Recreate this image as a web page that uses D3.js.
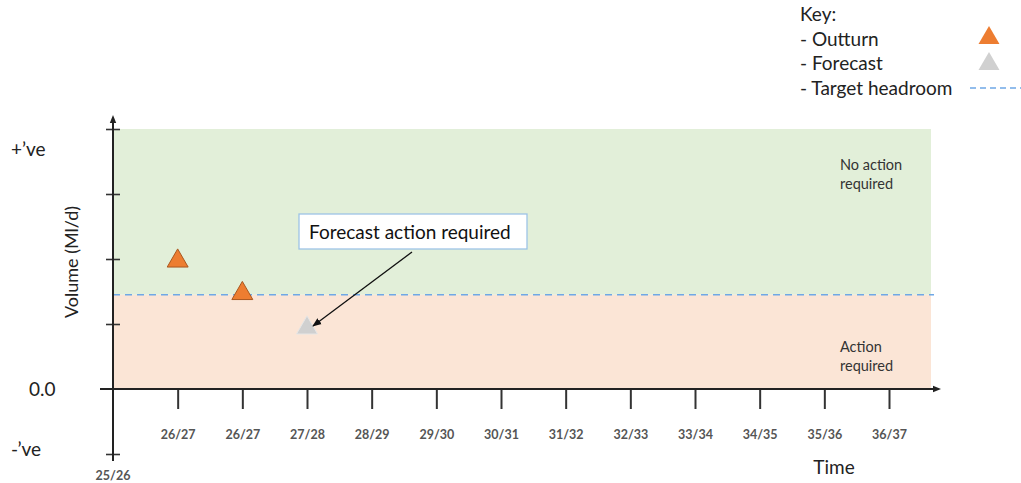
<!DOCTYPE html>
<html>
<head>
<meta charset="utf-8">
<script src="https://cdn.jsdelivr.net/npm/d3@7"></script>
<style>
  html, body { margin: 0; padding: 0; background: #fff; }
  svg { display: block; font-family: Lato, "Open Sans", sans-serif; }
</style>
</head>
<body>
<svg id="chart" width="1021" height="483"></svg>
<script>
// Financial-year periods along the time axis
const periods = ["25/26", "26/27", "26/27", "27/28", "28/29", "29/30", "30/31",
                 "31/32", "32/33", "33/34", "34/35", "35/36", "36/37"];
// Outturn and forecast volumes (index into periods, volume units)
const outturnPeriods = [1, 2];
const outturnValues = [2.0, 1.5];
const forecastPeriods = [3];
const forecastValues = [0.97];
// Target headroom level and the top of the chart zones
const targetHeadroom = [1.45];
const zoneTop = [4];
// Y-axis ticks and qualitative labels
const yTicks = [-1, 0, 1, 2, 3, 4];
const yWords = ["+\u2019ve", "0.0", "-\u2019ve"];
const yWordValues = [3.7, 0, -0.93];
const keyItems = ["Key:", "- Outturn", "- Forecast", "- Target headroom"];

const svg = d3.select("#chart");
const x = d3.scaleLinear().domain([0, 12]).range([113, 889]);
const y = d3.scaleLinear().domain([-1, 4]).range([454, 129]);
const xEnd = 931;

const defs = svg.append("defs");
defs.append("marker").attr("id", "axisArrow")
  .attr("viewBox", "0 0 10 10").attr("refX", 5).attr("refY", 5)
  .attr("markerWidth", 4).attr("markerHeight", 4).attr("orient", "auto")
  .append("path").attr("d", "M0,1 L10,5 L0,9 Z").attr("fill", "#222");
defs.append("marker").attr("id", "noteArrow")
  .attr("viewBox", "0 0 10 10").attr("refX", 9).attr("refY", 5)
  .attr("markerWidth", 7).attr("markerHeight", 7).attr("orient", "auto")
  .append("path").attr("d", "M0,1 L10,5 L0,9 Z").attr("fill", "#111");

// Zones: no action required (green) above target, action required (peach) below
svg.append("rect")
  .attr("x", x(0)).attr("y", y(zoneTop[0]))
  .attr("width", xEnd - x(0)).attr("height", y(targetHeadroom[0]) - y(zoneTop[0]))
  .attr("fill", "#e2efd9");
svg.append("rect")
  .attr("x", x(0)).attr("y", y(targetHeadroom[0]))
  .attr("width", xEnd - x(0)).attr("height", y(0) - y(targetHeadroom[0]))
  .attr("fill", "#fbe5d6");

// Target headroom line
svg.append("line")
  .attr("x1", x(0)).attr("x2", xEnd + 3)
  .attr("y1", y(targetHeadroom[0])).attr("y2", y(targetHeadroom[0]))
  .attr("stroke", "#6fa8e6").attr("stroke-width", 1.6)
  .attr("stroke-dasharray", "7,5");

// Zone labels
const zoneText = svg.append("g").attr("fill", "#333").attr("font-size", 14.5);
zoneText.append("text").attr("x", 840).attr("y", 170).text("No action");
zoneText.append("text").attr("x", 840).attr("y", 189).text("required");
zoneText.append("text").attr("x", 840).attr("y", 352).text("Action");
zoneText.append("text").attr("x", 840).attr("y", 371).text("required");

// X axis
const xAxis = d3.axisBottom(x)
  .tickValues(d3.range(1, periods.length))
  .tickFormat(i => periods[i])
  .tickSize(20).tickPadding(21).tickSizeOuter(0);
const gx = svg.append("g").attr("transform", `translate(0,${y(0)})`).call(xAxis);
gx.select(".domain").remove();
gx.selectAll(".tick line").attr("stroke", "#333").attr("stroke-width", 2);
gx.selectAll(".tick text").attr("fill", "#555").attr("font-size", 12.5)
  .attr("font-weight", "bold").attr("font-family", "Lato, sans-serif");
svg.append("line")
  .attr("x1", 100).attr("x2", 937).attr("y1", y(0)).attr("y2", y(0))
  .attr("stroke", "#222").attr("stroke-width", 2)
  .attr("marker-end", "url(#axisArrow)");
svg.append("text").attr("x", x(0)).attr("y", 480)
  .attr("text-anchor", "middle").attr("fill", "#555").attr("font-size", 12.5)
  .attr("font-weight", "bold").text(periods[0]);

// Y axis with cross ticks
const yAxis = d3.axisLeft(y).tickValues(yTicks.filter(v => v !== 0))
  .tickFormat("").tickSize(7).tickSizeOuter(0);
const gy = svg.append("g").attr("transform", `translate(${x(0)},0)`).call(yAxis);
gy.select(".domain").remove();
gy.selectAll(".tick line").attr("x1", 7).attr("stroke", "#333").attr("stroke-width", 1.6);
svg.append("line")
  .attr("x1", x(0)).attr("x2", x(0)).attr("y1", 461).attr("y2", 119)
  .attr("stroke", "#222").attr("stroke-width", 2)
  .attr("marker-end", "url(#axisArrow)");

// Qualitative y labels
svg.append("g").selectAll("text").data(yWords).join("text")
  .attr("x", (d, i) => i === 1 ? 29 : 11)
  .attr("y", (d, i) => y(yWordValues[i]) + 7)
  .attr("font-size", 19).attr("fill", "#222").text(d => d);

// Axis titles
svg.append("text")
  .attr("transform", `translate(78,262) rotate(-90)`)
  .attr("text-anchor", "middle").attr("font-size", 18).attr("fill", "#222")
  .text("Volume (Ml/d)");
svg.append("text").attr("x", 834).attr("y", 474)
  .attr("text-anchor", "middle").attr("font-size", 19).attr("fill", "#222")
  .text("Time");

// Markers
const tri = d3.symbol().type(d3.symbolTriangle).size(190);
svg.append("g").selectAll("path").data(outturnValues).join("path")
  .attr("d", tri)
  .attr("transform", (d, i) => `translate(${x(outturnPeriods[i])},${y(d) + 2})`)
  .attr("fill", "#ed7d31").attr("stroke", "#a9571f").attr("stroke-width", 1);
svg.append("g").selectAll("path").data(forecastValues).join("path")
  .attr("d", tri)
  .attr("transform", (d, i) => `translate(${x(forecastPeriods[i])},${y(d) + 2})`)
  .attr("fill", "#d0d0d0").attr("stroke", "#e6e6e6").attr("stroke-width", 1);

// Callout
svg.append("rect").attr("x", 299).attr("y", 214).attr("width", 228).attr("height", 35)
  .attr("fill", "#fff").attr("stroke", "#9dc3e6").attr("stroke-width", 1.3);
svg.append("text").attr("x", 309).attr("y", 239)
  .attr("font-size", 19).attr("fill", "#111").text("Forecast action required");
svg.append("line")
  .attr("x1", 412).attr("y1", 252)
  .attr("x2", x(forecastPeriods[0]) + 6).attr("y2", y(forecastValues[0]))
  .attr("stroke", "#111").attr("stroke-width", 1.3)
  .attr("marker-end", "url(#noteArrow)");

// Key
const key = svg.append("g").attr("font-size", 19).attr("fill", "#222");
key.selectAll("text").data(keyItems).join("text")
  .attr("x", 800).attr("y", (d, i) => 21 + i * 24.7).text(d => d);
key.append("path").attr("d", tri).attr("transform", "translate(989,38)")
  .attr("fill", "#ed7d31");
key.append("path").attr("d", tri).attr("transform", "translate(989,64)")
  .attr("fill", "#d0d0d0");
key.append("line").attr("x1", 970).attr("x2", 1021).attr("y1", 88).attr("y2", 88)
  .attr("stroke", "#6fa8e6").attr("stroke-width", 1.6).attr("stroke-dasharray", "6,4");
</script>
</body>
</html>
